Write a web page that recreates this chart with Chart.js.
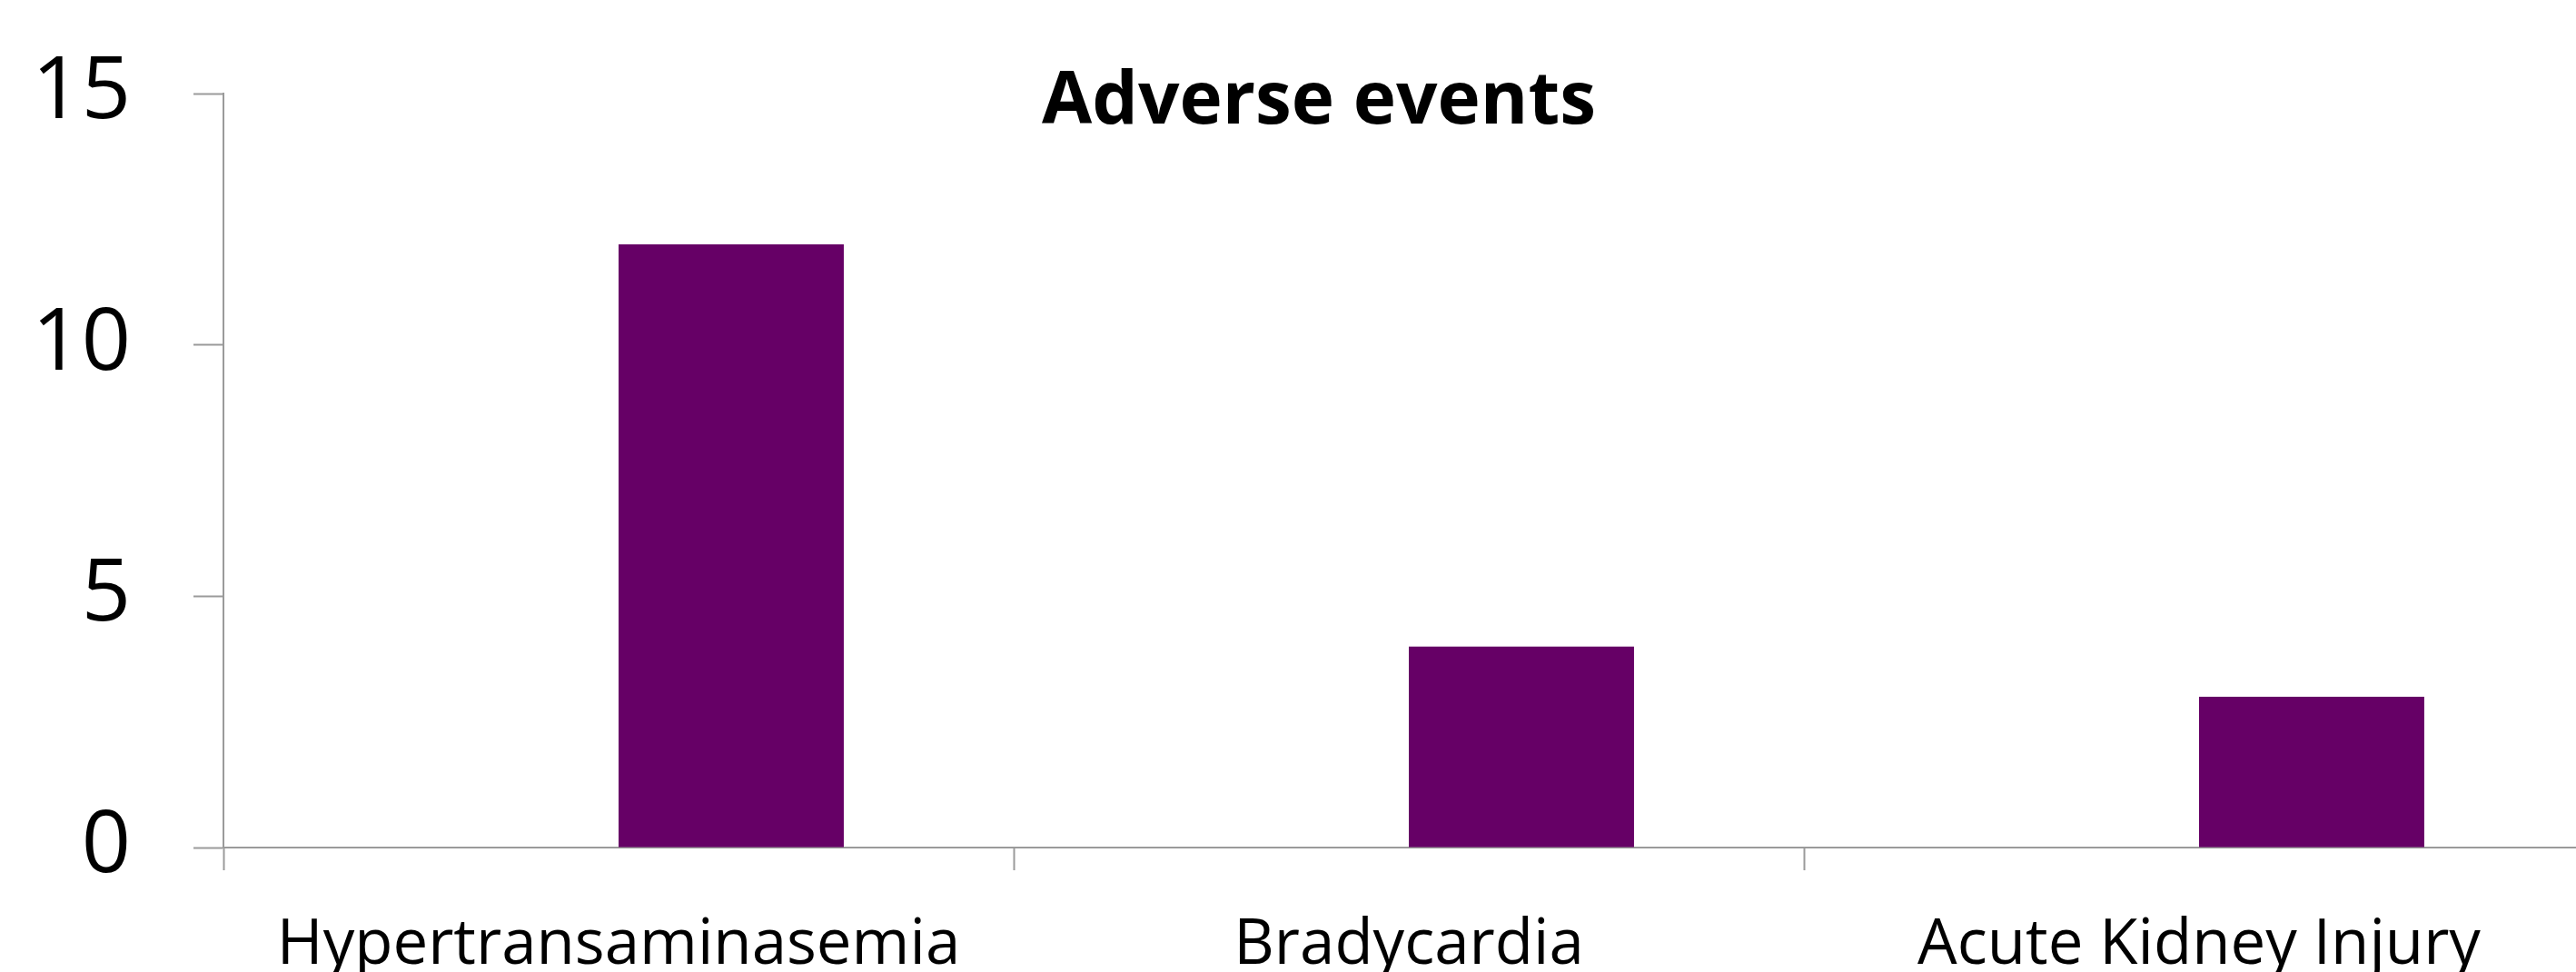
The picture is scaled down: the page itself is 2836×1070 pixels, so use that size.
<!DOCTYPE html>
<html>
<head>
<meta charset="utf-8">
<script src="https://cdn.jsdelivr.net/npm/chart.js@4/dist/chart.umd.min.js"></script>
<style>
  html, body { margin: 0; padding: 0; background: #fff; overflow: hidden; }
  #wrap { width: 2836px; height: 1070px; overflow: hidden; }
</style>
</head>
<body>
<div id="wrap">
  <canvas id="ae_bar" width="2904" height="1070"></canvas>
</div>
<script>
// data
const categories = ['Hypertransaminasemia', 'Bradycardia', 'Acute Kidney Injury'];
const emptySeries = [null, null, null];   // first series in the original has no values
const eventCounts = [12, 4, 3];
const yTicks = [0, 5, 10, 15];
const chartTitle = 'Adverse events';

const AXIS_GREY = '#9a9a9a';
const BAR_COLOR = '#660066';

// title sits over the plot like in the office chart, so it is drawn by hand
const overlayTitle = {
    id: 'overlayTitle',
    afterDraw: function(chart) {
        const c = chart.ctx;
        c.save();
        c.font = 'bold 80px "Open Sans"';
        c.fillStyle = '#000';
        c.textAlign = 'center';
        c.textBaseline = 'alphabetic';
        c.fillText(chartTitle, chart.width / 2, 136);
        c.restore();
    }
};

const ctx = document.getElementById('ae_bar').getContext('2d');

const aeChart = new Chart(ctx, {
    type: 'bar',
    data: {
        labels: categories,
        datasets: [
            {
                label: 'Series 1',
                data: emptySeries,
                backgroundColor: BAR_COLOR
            },
            {
                label: chartTitle,
                data: eventCounts,
                backgroundColor: BAR_COLOR,
                borderWidth: 0
            }
        ]
    },
    options: {
        responsive: false,
        animation: false,
        categoryPercentage: 0.57,
        barPercentage: 1,
        layout: {
            padding: { top: 103, left: 0, right: 48, bottom: 0 }
        },
        plugins: {
            legend: { display: false },
            tooltip: { enabled: false },
            title: { display: false }
        },
        scales: {
            x: {
                grid: {
                    display: true,
                    drawOnChartArea: false,
                    drawTicks: true,
                    tickLength: 25,
                    tickWidth: 2,
                    color: AXIS_GREY,
                    offset: true
                },
                border: { display: true, color: AXIS_GREY, width: 2 },
                ticks: {
                    color: '#000',
                    padding: 42,
                    maxRotation: 0,
                    autoSkip: false,
                    font: { family: 'Open Sans', size: 69 }
                },
                afterFit: function(scale) {
                    scale.height = 137;
                }
            },
            y: {
                min: 0,
                max: 15,
                grid: {
                    display: true,
                    drawOnChartArea: false,
                    drawTicks: true,
                    tickLength: 33,
                    tickWidth: 2,
                    color: AXIS_GREY
                },
                border: { display: true, color: AXIS_GREY, width: 2 },
                afterBuildTicks: function(scale) {
                    scale.ticks = yTicks.map(v => ({ value: v }));
                },
                ticks: {
                    color: '#000',
                    padding: 69,
                    font: { family: 'Open Sans', size: 95 }
                },
                afterFit: function(scale) {
                    scale.width = 246;
                    // big label padding would otherwise push the plot down
                    scale.paddingTop = 0;
                    scale.paddingBottom = 0;
                }
            }
        }
    },
    plugins: [overlayTitle]
});
</script>
</body>
</html>
